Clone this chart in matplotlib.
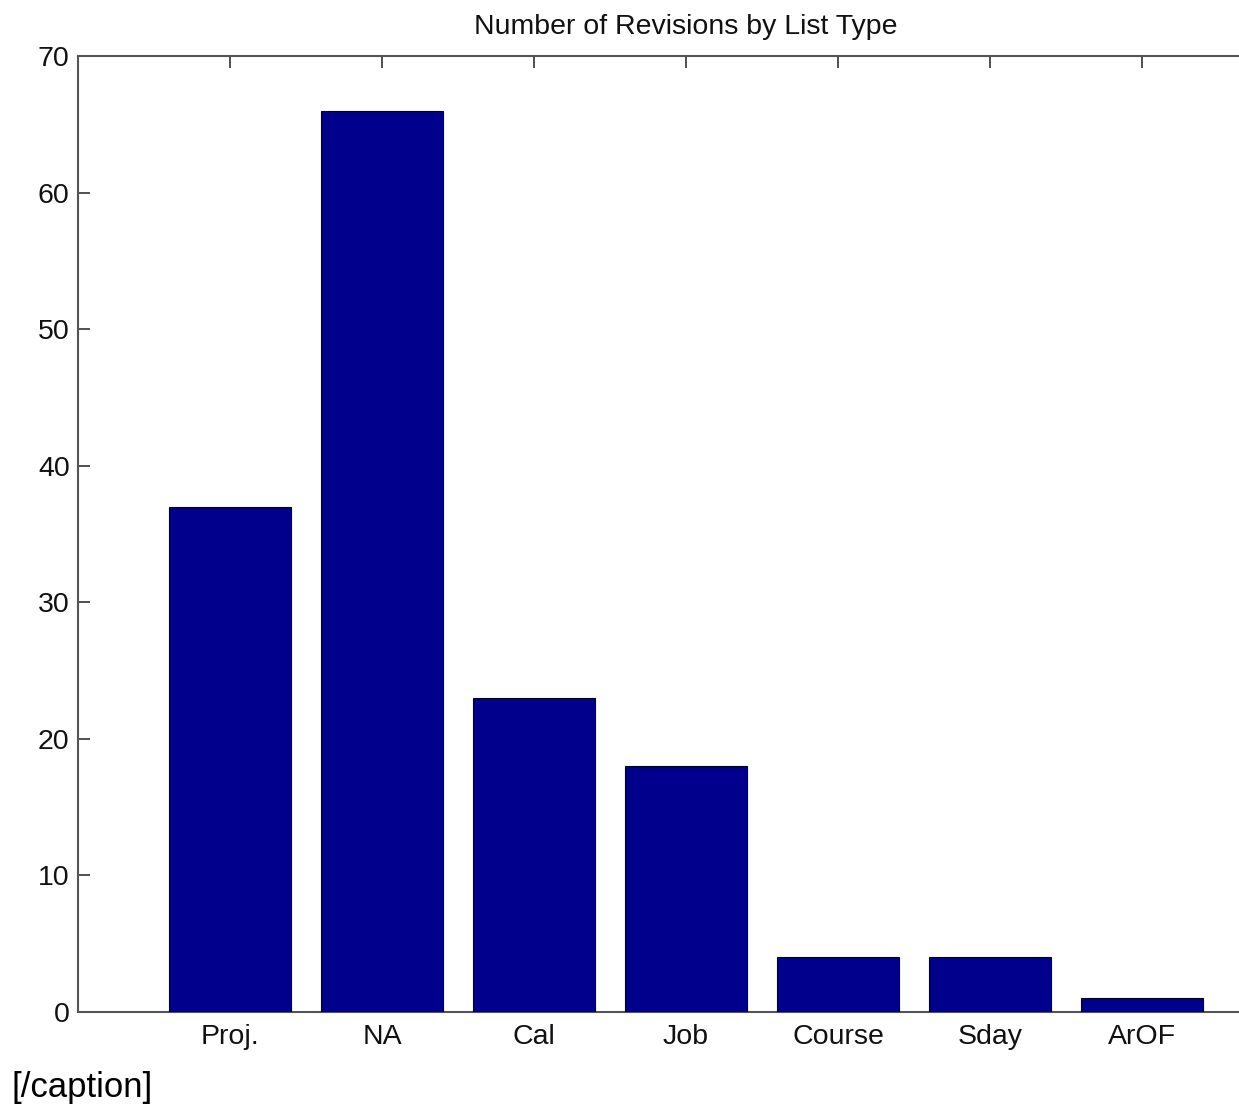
import matplotlib
matplotlib.use("Agg")
import matplotlib.pyplot as plt

categories = ["Proj.", "NA", "Cal", "Job", "Course", "Sday", "ArOF"]
values = [37, 66, 23, 18, 4, 4, 1]
yticks = [0, 10, 20, 30, 40, 50, 60, 70]

plt.rcParams['font.family'] = ['Liberation Sans', 'DejaVu Sans']

W, H = 1239, 1104
fig = plt.figure(figsize=(W / 100, H / 100), dpi=100)
left = 78 / W
bottom = (H - 1012) / H
height = (1012 - 56) / H
width = 152 * 8 / W
ax = fig.add_axes([left, bottom, width, height])

x = list(range(1, len(categories) + 1))
ax.bar(x, values, width=0.8, color="#00008C", edgecolor="#000030", linewidth=0.8, zorder=3)

ax.set_xlim(0, 8)
ax.set_ylim(0, 70)
ax.set_xticks(x)
ax.set_xticklabels(categories)
ax.set_yticks(yticks)
ax.tick_params(axis="both", direction="in", length=8.5, width=1.2, color="#333333",
               labelsize=20.5, top=True, right=True, labelcolor="#111111")
ax.tick_params(axis="x", pad=9)
ax.tick_params(axis="y", pad=6)
for s in ax.spines.values():
    s.set_color("#555555")
    s.set_linewidth(1.5)
    s.set_zorder(2.5)

ax.set_title("Number of Revisions by List Type", fontsize=20.5, pad=16, color="#111111")

fig.text(12 / W, 1 - 1104 / H, "[/caption]", fontsize=25, ha="left", va="bottom")

fig.savefig("out.png", dpi=100)
